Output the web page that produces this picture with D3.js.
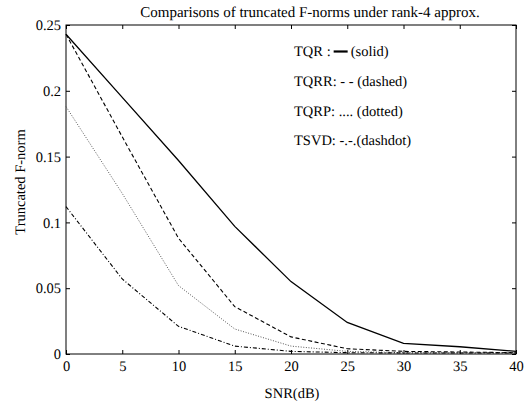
<!DOCTYPE html>
<html><head><meta charset="utf-8">
<script src="https://cdn.jsdelivr.net/npm/d3@7/dist/d3.min.js"></script>
<style>body{margin:0;background:#fff}svg{display:block;text-rendering:geometricPrecision}</style>
</head><body>
<svg id="c" width="527" height="405"></svg>
<script>
const snr = [0, 5, 10, 15, 20, 25, 30, 35, 40];
const tqr  = [0.243, 0.195, 0.147, 0.097, 0.055, 0.024, 0.008, 0.0055, 0.002];
const tqrr = [0.243, 0.165, 0.088, 0.036, 0.013, 0.004, 0.002, 0.0015, 0.001];
const tqrp = [0.188, 0.122, 0.052, 0.019, 0.006, 0.002, 0.001, 0.001, 0.001];
const tsvd = [0.112, 0.057, 0.021, 0.006, 0.002, 0.001, 0.0008, 0.0008, 0.0008];
const xTicks = [0, 5, 10, 15, 20, 25, 30, 35, 40];
const yTicks = [0, 0.05, 0.1, 0.15, 0.2, 0.25];
const yTickLabels = ["0", "0.05", "0.1", "0.15", "0.2", "0.25"];
const legendLabels = ["TQR :", "TQRR: - - (dashed)", "TQRP: .... (dotted)", "TSVD: -.-.(dashdot)"];
const title = "Comparisons of truncated F-norms under rank-4 approx.";

const FF = '"Liberation Serif"';
const svg = d3.select("#c");
const L = 66, R = 516, T = 25, B = 354;
const x = d3.scaleLinear().domain([0, 40]).range([L, R]);
const y = d3.scaleLinear().domain([0, 0.25]).range([B, T]);

svg.append("rect").attr("x", L).attr("y", T).attr("width", R - L).attr("height", B - T)
  .attr("fill", "none").attr("stroke", "#000").attr("stroke-width", 1);

const fs = 14.5;
const ax = svg.append("g").attr("transform", `translate(0,${B})`)
  .call(d3.axisBottom(x).tickValues(xTicks).tickSize(-4).tickPadding(7).tickFormat(d3.format("d")));
const axT = svg.append("g").attr("transform", `translate(0,${T})`)
  .call(d3.axisTop(x).tickValues(xTicks).tickSize(-4).tickFormat(""));
const ay = svg.append("g").attr("transform", `translate(${L},0)`)
  .call(d3.axisLeft(y).tickValues(yTicks).tickSize(-4).tickPadding(5).tickFormat((d, i) => yTickLabels[i]));
const ayR = svg.append("g").attr("transform", `translate(${R},0)`)
  .call(d3.axisRight(y).tickValues(yTicks).tickSize(-4).tickFormat(""));
[ax, axT, ay, ayR].forEach(g => {
  g.select(".domain").remove();
  g.selectAll("line").attr("stroke", "#000");
  g.selectAll("text").style("font-size", fs + "px").style("font-family", FF).attr("fill", "#000");
});

const line = d3.line().x((d, i) => x(snr[i])).y(d => y(d));
const series = [
  {v: tqr,  dash: null,        w: 1.3, c: "#000"},
  {v: tqrr, dash: "4,2.5",     w: 1.1, c: "#000"},
  {v: tqrp, dash: "1,1.6",     w: 0.9, c: "#444"},
  {v: tsvd, dash: "4,2,1,2",   w: 1.1, c: "#000"}
];
series.forEach(s => {
  svg.append("path").attr("d", line(s.v)).attr("fill", "none")
    .attr("stroke", s.c).attr("stroke-width", s.w)
    .attr("stroke-dasharray", s.dash);
});

function txt(sel) { return sel.style("font-family", FF).attr("fill", "#000"); }
txt(svg.append("text")).attr("x", 310).attr("y", 17).attr("text-anchor", "middle")
  .style("font-size", "15px").text(title);
txt(svg.append("text")).attr("x", 292).attr("y", 398).attr("text-anchor", "middle")
  .style("font-size", fs + "px").text("SNR(dB)");
txt(svg.append("text")).attr("transform", "translate(25,182) rotate(-90)").attr("text-anchor", "middle")
  .style("font-size", fs + "px").text("Truncated F-norm");

const ly = [56, 86, 116, 145];
const lx = 294;
const t0 = txt(svg.append("text")).attr("x", lx).attr("y", ly[0]).style("font-size", fs + "px").text(legendLabels[0]);
const w0 = t0.node().getComputedTextLength();
svg.append("line").attr("x1", lx + w0 + 3).attr("x2", lx + w0 + 17)
  .attr("y1", ly[0] - 4.5).attr("y2", ly[0] - 4.5).attr("stroke", "#000").attr("stroke-width", 2.2);
txt(svg.append("text")).attr("x", lx + w0 + 20).attr("y", ly[0]).style("font-size", fs + "px").text("(solid)");
for (let i = 1; i < 4; i++) {
  txt(svg.append("text")).attr("x", lx).attr("y", ly[i]).style("font-size", fs + "px").text(legendLabels[i]);
}
</script>
</body></html>
